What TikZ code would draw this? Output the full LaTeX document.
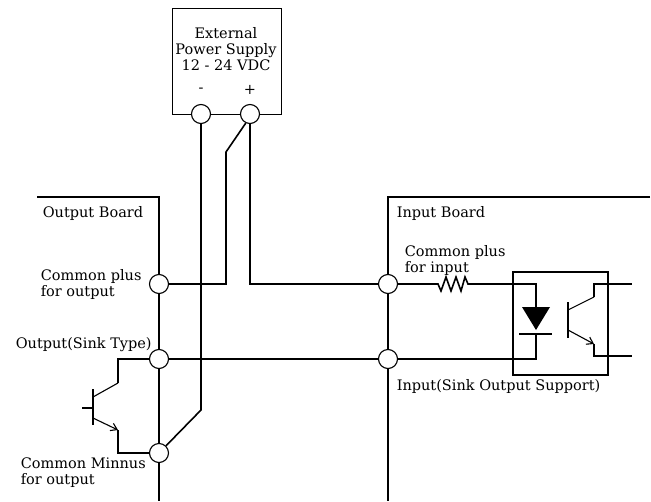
\documentclass[tikz,border=0pt]{standalone}
\usepackage{fontspec}
\setmainfont{DejaVu Serif}
\usetikzlibrary{arrows,arrows.meta}

\begin{document}
\begin{tikzpicture}[x=1pt,y=-1pt,>={Straight Barb[length=6pt,width=8pt]},line width=1.6pt,
		pin node/.style={circle,draw,fill=white,line width=1.1pt,minimum size=19pt,inner sep=0pt},
		text node/.style={anchor=west,align=left,inner sep=0pt,font=\fontsize{14.5}{16}\selectfont},
		thin line/.style={line width=1.1pt}]
	\useasboundingbox (0,0) rectangle (651,501);
	% power supply
	\node[draw,line width=1.1pt,minimum width=109pt,minimum height=106pt,anchor=north west] (ps) at (172,8) {};
	\node[text node,anchor=center,align=center] (psname) at (226,49) {External\\Power Supply\\12 - 24 VDC};
	\node[text node,anchor=center] (minus) at (201,90) {-};
	\node[text node,anchor=center] (plus) at (250,90) {+};
	\node[pin node] (psm) at (201,114) {};
	\node[pin node] (psp) at (250,114) {};
	% terminals
	\node[pin node] (outcp) at (159,284) {};
	\node[pin node] (outsig) at (159,359) {};
	\node[pin node] (outcm) at (159,453) {};
	\node[pin node] (incp) at (388,284) {};
	\node[pin node] (insig) at (388,359) {};
	% labels
	\node[text node] (outname) at (42,213) {Output Board};
	\node[text node] (outcptext) at (40,284) {Common plus\\for output};
	\node[text node] (outsigtext) at (15,345) {Output(Sink Type)};
	\node[text node] (outcmtext) at (20,473) {Common Minnus\\for output};
	\node[text node] (inname) at (396,213) {Input Board};
	\node[text node] (incptext) at (404,260) {Common plus\\for input};
	\node[text node] (insigtext) at (396,386) {Input(Sink Output Support)};
	% boards
	\draw (37,197) -- (159,197) -- (outcp) -- (outsig) -- (outcm) -- (159,501);
	\draw (650,197) -- (388,197) -- (incp) -- (insig) -- (388,501);
	% supply wires
	\draw (psm) -- (201,410) -- (outcm);
	\draw (psp.245) -- (226,152) -- (226,284) -- (outcp);
	\draw (psp) -- (250,284) -- (incp);
	\draw (outsig) -- (insig);
	% output transistor
	\draw (outsig) -- (118,359) -- (118,383);
	\draw[thin line] (118,383) -- (93,397);
	\draw[thin line] (93,389) -- (93,425);
	\draw[thin line] (82,408) -- (93,408);
	\draw[thin line,->] (93,418) -- (118,430);
	\draw (118,430) -- (118,453) -- (outcm);
	% input side
	\draw (incp) -- (438,284) -- (441,291) -- (446,277) -- (451,291) -- (456,277)
		-- (461,291) -- (465,277) -- (468,284) -- (536,284) -- (536,307);
	\draw (513,272) rectangle (608,375);
	\fill (522,307) -- (550,307) -- (536,330) -- cycle;
	\draw (519,334) -- (552,334);
	\draw (536,334) -- (536,359) -- (insig);
	\draw[thin line] (568,302) -- (568,338);
	\draw[thin line] (568,310) -- (594,297);
	\draw (594,297) -- (594,284) -- (632,284);
	\draw[thin line,->] (568,330) -- (594,344);
	\draw (594,344) -- (594,356) -- (632,356);
\end{tikzpicture}
\end{document}
